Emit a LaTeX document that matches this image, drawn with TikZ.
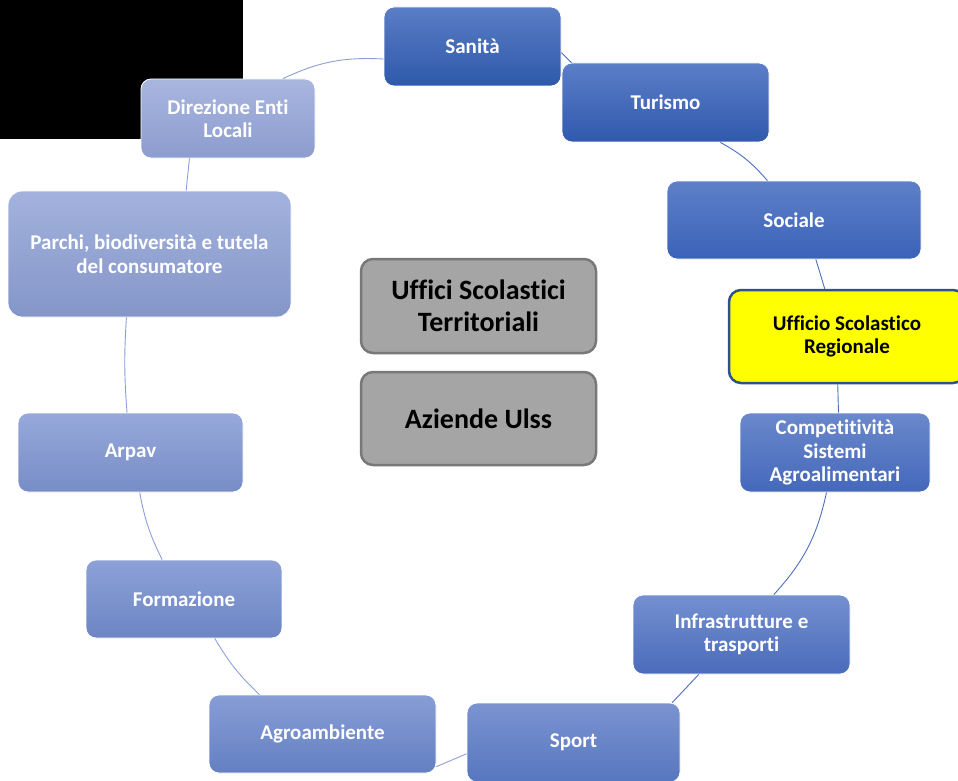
\documentclass[tikz,border=0pt]{standalone}
\usepackage{fontspec}
\setmainfont{Carlito}[Ligatures=NoCommon]
\usepackage{tikz}

\definecolor{sanitaT}{HTML}{5A7DC6}\definecolor{sanitaB}{HTML}{2E59AA}
\definecolor{turismoT}{HTML}{5B7EC7}\definecolor{turismoB}{HTML}{3059AE}
\definecolor{socialeT}{HTML}{5E80C8}\definecolor{socialeB}{HTML}{3A62B8}
\definecolor{competT}{HTML}{6A88CC}\definecolor{competB}{HTML}{4468BA}
\definecolor{infraT}{HTML}{7490D0}\definecolor{infraB}{HTML}{4B6BBB}
\definecolor{sportT}{HTML}{7B94D0}\definecolor{sportB}{HTML}{5676C0}
\definecolor{agroT}{HTML}{889DD6}\definecolor{agroB}{HTML}{6380C2}
\definecolor{formT}{HTML}{8DA1D7}\definecolor{formB}{HTML}{6C85C4}
\definecolor{arpavT}{HTML}{97A9DB}\definecolor{arpavB}{HTML}{778DC6}
\definecolor{parchiT}{HTML}{A3B2DD}\definecolor{parchiB}{HTML}{8496C9}
\definecolor{direzT}{HTML}{A8B6DF}\definecolor{direzB}{HTML}{8C9CCE}
\definecolor{usrFill}{HTML}{FFFF00}
\definecolor{usrLine}{HTML}{2F528F}
\definecolor{greyFill}{HTML}{A5A5A5}
\definecolor{greyLine}{HTML}{787878}
\definecolor{ringDark}{HTML}{4A6FC0}
\definecolor{ringLight}{HTML}{8CA0D8}

\begin{document}
\begin{tikzpicture}[x=1pt,y=-1pt]
            \clip (0,0) rectangle (958,781);
            \fill[black] (0,0) rectangle (243,139);
            \begin{scope}[every node/.style={rounded corners=10pt, draw=white, line width=0.8pt, text=white, align=center, inner sep=0pt, font=\fontsize{21}{23.5}\selectfont\bfseries}]
                \node[top color=sanitaT, bottom color=sanitaB, minimum width=177pt, minimum height=79pt] (1) at (472.5,46.5) {Sanità};
                \node[top color=turismoT, bottom color=turismoB, minimum width=207pt, minimum height=79pt] (2) at (665.5,102.5) {Turismo};
                \node[top color=socialeT, bottom color=socialeB, minimum width=254pt, minimum height=78pt] (3) at (794,220) {Sociale};
                \node[fill=usrFill, draw=usrLine, line width=2.5pt, text=black, rounded corners=12pt, minimum width=236pt, minimum height=93pt] (4) at (847,336.5) {Ufficio Scolastico\\Regionale};

                \node[top color=competT, bottom color=competB, minimum width=190pt, minimum height=79pt] (5) at (835,452.5) {Competitività\\Sistemi\\Agroalimentari};
                \node[top color=infraT, bottom color=infraB, minimum width=217pt, minimum height=79pt] (6) at (741.5,634.5) {Infrastrutture e\\trasporti};
                \node[top color=sportT, bottom color=sportB, minimum width=213pt, minimum height=79pt] (7) at (573.5,742.5) {Sport};
                \node[top color=agroT, bottom color=agroB, minimum width=227pt, minimum height=78pt] (8) at (322.5,734) {Agroambiente};

                \node[top color=formT, bottom color=formB, minimum width=196pt, minimum height=78pt] (9) at (184,599) {Formazione};
                \node[top color=arpavT, bottom color=arpavB, minimum width=225pt, minimum height=79pt] (10) at (130.5,452.5) {Arpav};
                \node[top color=parchiT, bottom color=parchiB, rounded corners=14pt, minimum width=283pt, minimum height=126pt] (11) at (149.5,254) {Parchi, biodiversità e tutela\\del consumatore};
                \node[top color=direzT, bottom color=direzB, minimum width=174pt, minimum height=79pt] (12) at (228,118.5) {Direzione Enti\\Locali};
            \end{scope}
            \begin{scope}[every node/.style={rounded corners=12pt, fill=greyFill, draw=greyLine, line width=2.5pt, align=center, inner sep=0pt, minimum width=235pt, font=\fontsize{28}{32}\selectfont\bfseries}]
                \node[minimum height=94pt] (13) at (478.5,306) {Uffici Scolastici\\Territoriali};
                \node[minimum height=93pt] (14) at (478.5,418.5) {Aziende Ulss};
            \end{scope}
            \begin{scope}[every edge/.style={draw=ringDark, line width=0.9pt}]
                \path [-] (1.-4.8) edge node {} (2.157.1);
                \path [-] (2.-36.4) edge[bend left=10] node {} (3.124.7);
                \path [-] (3.-61.7) edge node {} (4.115.3);
                \path [-] (4.-101) edge node {} (5.85.7);
                \path [-] (5.-102.8) edge[bend left=15] node {} (6.51.4);
                \path [-] (6.-137.1) edge node {} (7.22.9);
                \path [-] (7.186.1) edge[draw=ringLight] node {} (8.-16.7);
                \path [-] (8.148.8) edge[draw=ringLight, bend left=8] node {} (9.-52.4);
                \path [-] (9.119.4) edge[draw=ringLight, bend left=8] node {} (10.-77.9);
                \path [-] (10.95.1) edge[draw=ringLight, bend left=4] node {} (11.250.3);
                \path [-] (11.60.6) edge[draw=ringLight] node {} (12.226.1);
                \path [-] (12.36.2) edge[draw=ringLight, bend left=14] node {} (1.188.8);
            \end{scope}
        \end{tikzpicture}
\end{document}
